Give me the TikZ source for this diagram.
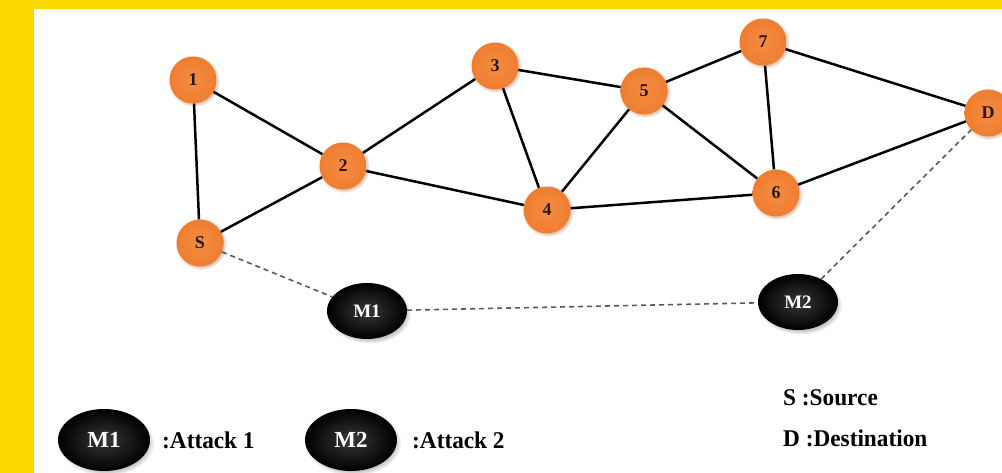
\documentclass[tikz,border=0pt]{standalone}
\usepackage{fontspec}
\setmainfont{Liberation Serif}
\newfontfamily\labelfont[FakeStretch=0.97]{Liberation Serif}
\usetikzlibrary{shadows,fadings,shapes.geometric}

\definecolor{bandyellow}{RGB}{250,216,0}
\definecolor{nodeorange}{RGB}{238,125,48}
\definecolor{nodeorangelight}{RGB}{244,140,66}
\definecolor{labeldark}{RGB}{40,22,10}
\definecolor{dashgray}{RGB}{90,90,90}

\tikzset{
  hop/.style={circle, minimum size=47pt, inner sep=0pt,
    inner color=nodeorangelight, outer color=nodeorange,
    circular drop shadow={fill=nodeorange!70!black, opacity=0.35, shadow scale=1.1,
      shadow xshift=1pt, shadow yshift=-1pt},
    font=\bfseries\fontsize{18}{18}\selectfont, text=labeldark},
  attacker/.style={ellipse, minimum width=80pt, minimum height=56pt, inner sep=0pt,
    inner color=black!78, outer color=black,
    circular drop shadow={shadow xshift=2pt, shadow yshift=-3pt, opacity=0.45, shadow scale=1.05},
    font=\bfseries\fontsize{19}{19}\selectfont, text=white},
  keyattacker/.style={attacker, minimum width=92pt, minimum height=62pt,
    font=\bfseries\fontsize{23}{23}\selectfont},
  keytext/.style={anchor=west, inner sep=0pt, font=\labelfont\bfseries\fontsize{24}{24}\selectfont},
  link/.style={line width=2.5pt, black},
  attacklink/.style={line width=1.6pt, dashgray, dash pattern=on 5pt off 4pt},
}

\begin{document}
\begin{tikzpicture}[x=1pt, y=-1pt]
  % canvas and yellow frame
  \useasboundingbox (0,0) rectangle (1002,473);
  \fill[white] (0,0) rectangle (1002,473);
  \fill[bandyellow] (0,0) rectangle (1002,9);
  \fill[bandyellow] (0,0) rectangle (34,473);

  % network nodes
  \node[hop] (n1) at (193,80) {1};
  \node[hop] (n2) at (343,166) {2};
  \node[hop] (s)  at (200,243) {S};
  \node[hop] (n3) at (495,66) {3};
  \node[hop] (n4) at (547,210) {4};
  \node[hop] (n5) at (644,91) {5};
  \node[hop] (n7) at (763,42) {7};
  \node[hop] (n6) at (776,193) {6};
  \node[hop] (d)  at (988,113) {D};

  % malicious nodes
  \node[attacker] (m1) at (367,311) {M1};
  \node[attacker] (m2) at (798,302) {M2};

  % links
  \draw[link] (n1) -- (n2);
  \draw[link] (n1) -- (s);
  \draw[link] (s) -- (n2);
  \draw[link] (n2) -- (n3);
  \draw[link] (n2) -- (n4);
  \draw[link] (n3) -- (n5);
  \draw[link] (n3) -- (n4);
  \draw[link] (n4) -- (n5);
  \draw[link] (n4) -- (n6);
  \draw[link] (n5) -- (n7);
  \draw[link] (n5) -- (n6);
  \draw[link] (n7) -- (n6);
  \draw[link] (n7) -- (d);
  \draw[link] (n6) -- (d);

  % attack route
  \draw[attacklink] (s) -- (m1);
  \draw[attacklink] (m1) -- (m2);
  \draw[attacklink] (m2) -- (d);

  % legend
  \node[keyattacker] (k1) at (104,440) {M1};
  \node[keytext] (k1t) at (162,440) {:Attack 1};
  \node[keyattacker] (k2) at (351,440) {M2};
  \node[keytext] (k2t) at (412,440) {:Attack 2};
  \node[keytext] (ks) at (783,398) {S :Source};
  \node[keytext] (kd) at (783,438) {D :Destination};
\end{tikzpicture}
\end{document}
